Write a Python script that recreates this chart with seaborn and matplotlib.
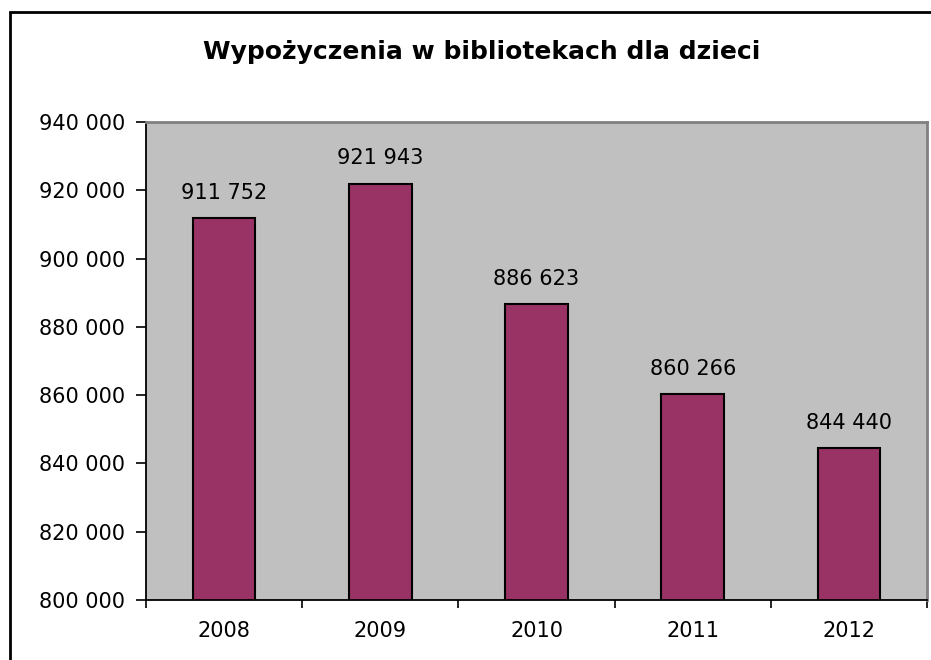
import matplotlib
matplotlib.use("Agg")
import matplotlib.pyplot as plt
import matplotlib.ticker as mticker
from matplotlib.patches import Rectangle
import seaborn as sns
import pandas as pd

# data
years = ["2008", "2009", "2010", "2011", "2012"]
loans = [911752, 921943, 886623, 860266, 844440]

title = "Wypożyczenia w bibliotekach dla dzieci"
bar_color = "#993366"
plot_bg = "#C0C0C0"


def fmt_space(v, pos=None):
    return f"{int(round(v)):,}".replace(",", " ")


sns.set_theme(style="white")
plt.rcParams["font.family"] = ["DejaVu Sans"]
plt.rcParams["text.color"] = "black"
plt.rcParams["xtick.color"] = "black"
plt.rcParams["ytick.color"] = "black"

df = pd.DataFrame({"year": years, "loans": loans})

fig = plt.figure(figsize=(9.31, 6.6), dpi=100)
ax = fig.add_axes([146 / 931, 60 / 660, 781 / 931, 478 / 660])
ax.set_facecolor(plot_bg)

sns.barplot(data=df, x="year", y="loans", color=bar_color, saturation=1,
            width=0.4, edgecolor="black", linewidth=1.5, ax=ax)

ax.set_ylim(800000, 940000)
ax.set_xlim(-0.5, len(years) - 0.5)
ax.yaxis.set_major_locator(mticker.MultipleLocator(20000))
ax.yaxis.set_major_formatter(mticker.FuncFormatter(fmt_space))
ax.set_xlabel("")
ax.set_ylabel("")

# value labels above bars
for i, v in enumerate(loans):
    ax.annotate(fmt_space(v), (i, v), xytext=(0, 11), textcoords="offset points",
                ha="center", va="bottom", fontsize=15, color="black")

# x ticks sit between categories, labels centred under bars
ax.set_xticks([i for i in range(len(years))])
ax.set_xticklabels(years)
ax.tick_params(axis="x", which="major", length=0, pad=15, labelsize=15)
ax.set_xticks([i - 0.5 for i in range(len(years) + 1)], minor=True)
ax.tick_params(axis="x", which="minor", length=6, width=1.2, color="black",
               direction="out", bottom=True)
ax.tick_params(axis="y", length=7, width=1.2, color="black", direction="out",
               left=True, pad=8, labelsize=15)

for side in ["left", "bottom"]:
    ax.spines[side].set_color("black")
    ax.spines[side].set_linewidth(1.3)
for side in ["top", "right"]:
    ax.spines[side].set_visible(True)
    ax.spines[side].set_color("#808080")
    ax.spines[side].set_linewidth(2)

fig.text(482 / 931, 1 - 52 / 660, title, ha="center", va="center",
         fontsize=18, fontweight="bold", color="black")

# outer chart frame, runs off the right and bottom edges
fig.patches.append(Rectangle((10 / 931, -0.05), 1.0, 1 - 12 / 660 + 0.05,
                             transform=fig.transFigure, fill=False,
                             edgecolor="black", linewidth=2))

fig.savefig("out.png", dpi=100)
